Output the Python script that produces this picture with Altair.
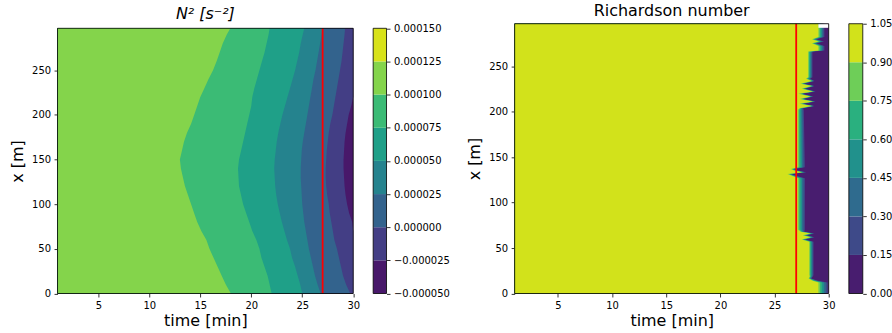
import altair as alt
import pandas as pd

# ---------------- data ----------------
time_domain = [1, 30]
x_domain = [0, 297]
time_ticks = [5, 10, 15, 20, 25, 30]
x_ticks = [0, 50, 100, 150, 200, 250]
marker_time = [27]

# N^2 panel: contour-band edges (time in min) along x [m]
n2_rows = [0, 10, 20, 30, 40, 50, 60, 70, 80, 90, 100, 110, 120, 130, 140, 150,
           160, 170, 180, 190, 200, 210, 220, 230, 240, 250, 260, 270, 280, 290, 297]
n2_edge_1 = [18.0, 17.5, 17.1, 16.7, 16.3, 15.9, 15.6, 15.1, 14.7, 14.4, 14.1, 13.8, 13.5, 13.3, 13.1, 13.0,
             13.2, 13.4, 13.7, 14.1, 14.4, 14.7, 15.0, 15.4, 15.8, 16.25, 16.6, 16.9, 17.2, 17.6, 17.95]
n2_edge_2 = [22.0, 21.8, 21.6, 21.3, 21.0, 20.8, 20.5, 20.1, 19.8, 19.5, 19.2, 19.0, 18.8, 18.75, 18.7, 18.8,
             19.0, 19.2, 19.4, 19.6, 19.8, 20.0, 20.1, 20.3, 20.55, 20.8, 21.05, 21.3, 21.5, 21.7, 21.8]
n2_edge_3 = [25.0, 24.8, 24.55, 24.3, 24.0, 23.8, 23.5, 23.25, 23.0, 22.8, 22.6, 22.45, 22.35, 22.3, 22.25, 22.3,
             22.4, 22.5, 22.65, 22.85, 23.05, 23.3, 23.55, 23.8, 24.05, 24.3, 24.5, 24.7, 24.85, 25.05, 25.2]
n2_edge_4 = [26.8, 26.5, 26.25, 26.05, 25.85, 25.65, 25.5, 25.35, 25.2, 25.1, 25.0, 24.95, 24.9, 24.85, 24.85, 24.9,
             24.95, 25.05, 25.2, 25.35, 25.5, 25.65, 25.8, 25.95, 26.1, 26.3, 26.45, 26.6, 26.75, 26.9, 27.0]
n2_edge_5 = [29.7, 29.3, 29.0, 28.8, 28.6, 28.4, 28.15, 28.0, 27.85, 27.7, 27.6, 27.45, 27.35, 27.3, 27.3, 27.35,
             27.4, 27.5, 27.6, 27.75, 27.95, 28.1, 28.25, 28.4, 28.55, 28.7, 28.85, 28.95, 29.05, 29.15, 29.2]
n2_edge_6 = [30, 30, 30, 30, 30, 30, 30, 30, 29.9, 29.6, 29.4, 29.25, 29.15, 29.1, 29.05, 29.05,
             29.1, 29.15, 29.25, 29.4, 29.55, 29.8, 30, 30, 30, 30, 30, 30, 30, 30, 30]
n2_levels = [-0.00005, -0.000025, 0.0, 0.000025, 0.00005, 0.000075, 0.0001, 0.000125, 0.00015]
n2_colors = ["#48186a", "#433e85", "#33638d", "#25838e", "#1fa088", "#3bbb75", "#84d44b", "#d8e219"]

# Richardson number panel: time where Ri leaves the top band / reaches the bottom band
ri_rows = [0, 12, 14, 16.5, 19, 20.5, 57, 59.5, 62, 64, 66, 68, 70.5, 127, 129.5, 131.5, 133.5,
           135.5, 137, 139, 202, 204, 206.5, 209, 211.5, 214, 217, 220, 222.5, 225.5, 228.5, 231,
           234, 236.5, 238, 266.5, 267.5, 272.5, 275.5, 277.5, 280, 282.5, 297]
ri_high_end = [29.05, 29.05, 28.5, 28.15, 28.25, 28.2, 28.2, 27.5, 28.3, 27.6, 28.3, 27.4, 27.15, 27.15, 26.6, 26.2, 27.5,
               26.8, 26.5, 27.15, 27.15, 27.3, 28.4, 27.3, 28.5, 27.3, 28.3, 27.2, 28.5, 27.5, 28.4, 27.4,
               28.4, 27.9, 28.1, 28.1, 29.05, 29.05, 28.45, 29.05, 28.45, 29.05, 29.05]
ri_low_start = [29.9, 29.9, 29.0, 28.4, 28.55, 28.6, 28.6, 27.85, 28.7, 27.95, 28.7, 27.75, 27.8, 27.8, 27.0, 26.55, 27.95,
                27.1, 26.85, 27.8, 27.7, 27.65, 28.7, 27.6, 28.8, 27.6, 28.6, 27.5, 28.8, 27.8, 28.7, 27.7,
                28.7, 28.3, 28.5, 28.5, 29.6, 29.6, 28.85, 29.6, 28.85, 29.6, 29.6]
ri_levels = [0.0, 0.15, 0.30, 0.45, 0.60, 0.75, 0.90, 1.05]
ri_colors = ["#481d6f", "#3e4a89", "#2f6b8e", "#21918c", "#2ab07f", "#6ece58", "#d2e21b"]
ri_mask_rows = [292.5, 297]
ri_mask_time = [29.05, 30]

# ---------------- layout ----------------
FONT = "DejaVu Sans"
H = 270.6            # common panel height
LEFT_TOP = 4.6       # left panel starts a little lower
xs = alt.Scale(domain=time_domain, nice=False, zero=False)
x_axis = alt.Axis(values=time_ticks, title="time [min]", titlePadding=2, labelFlush=False)
y_axis = alt.Axis(values=x_ticks, title="x [m]", titlePadding=6, labelFlush=False)


def labels(levels, fmt):
    return [f"{fmt(a)}..{fmt(b)}" for a, b in zip(levels[:-1], levels[1:])]


def area_layer(rows, right, band, cscale, ys):
    df = pd.DataFrame({"xm": rows, "t0": time_domain[0], "t1": right, "band": band})
    return alt.Chart(df).mark_area(orient="horizontal", interpolate="linear").encode(
        y=alt.Y("xm:Q", scale=ys, axis=y_axis),
        x=alt.X("t0:Q", scale=xs, axis=x_axis, stack=False),
        x2="t1:Q",
        color=alt.Color("band:N", scale=cscale, legend=None),
    )


def frame_layer(ys):
    df = pd.DataFrame({"t0": [time_domain[0]], "t1": [time_domain[1]],
                       "y0": [x_domain[0]], "y1": [x_domain[1]]})
    return alt.Chart(df).mark_rect(fillOpacity=0, stroke="black", strokeWidth=0.8).encode(
        x=alt.X("t0:Q", scale=xs, axis=x_axis), x2="t1:Q",
        y=alt.Y("y0:Q", scale=ys, axis=y_axis), y2="y1:Q")


def rule_layer(ys):
    df = pd.DataFrame({"t": marker_time, "y0": x_domain[0], "y1": x_domain[1]})
    return alt.Chart(df).mark_rule(color="red", strokeWidth=1.8).encode(
        x=alt.X("t:Q", scale=xs, axis=x_axis), y=alt.Y("y0:Q", scale=ys, axis=y_axis), y2="y1:Q")


def colorbar(levels, cscale, fmt, w, top):
    df = pd.DataFrame({"lo": levels[:-1], "hi": levels[1:], "band": cscale.domain,
                       "c0": 0, "c1": 1})
    cys = alt.Scale(domain=[levels[0], levels[-1]], nice=False, zero=False, range=[H, top])
    cxs = alt.Scale(domain=[0, 1], nice=False, zero=False)
    cb_axis = alt.Axis(orient="right", values=levels, format=fmt, title=None,
                       labelOverlap=False, labelFlush=False, labelBound=False)
    bars = alt.Chart(df).mark_rect().encode(
        x=alt.X("c0:Q", scale=cxs, axis=None), x2="c1:Q",
        y=alt.Y("lo:Q", scale=cys, axis=cb_axis),
        y2="hi:Q",
        color=alt.Color("band:N", scale=cscale, legend=None),
    )
    fdf = pd.DataFrame({"c0": [0], "c1": [1], "lo": [levels[0]], "hi": [levels[-1]]})
    frame = alt.Chart(fdf).mark_rect(fillOpacity=0, stroke="black", strokeWidth=0.8).encode(
        x=alt.X("c0:Q", scale=cxs, axis=None), x2="c1:Q",
        y=alt.Y("lo:Q", scale=cys, axis=cb_axis), y2="hi:Q")
    return alt.layer(bars, frame).properties(width=w, height=H)


# ---------------- N^2 panel ----------------
ys_left = alt.Scale(domain=x_domain, nice=False, zero=False, range=[H, LEFT_TOP])
n2_labels = labels(n2_levels, lambda v: f"{v:.6f}")
n2_scale = alt.Scale(domain=n2_labels, range=n2_colors)
n2_edges = [[time_domain[1]] * len(n2_rows), n2_edge_6, n2_edge_5, n2_edge_4,
            n2_edge_3, n2_edge_2, n2_edge_1]  # right edges of bands 0..6 (low to high)
n2_layers = [area_layer(n2_rows, n2_edges[i], n2_labels[i], n2_scale, ys_left) for i in range(7)]
left = alt.layer(*n2_layers, rule_layer(ys_left), frame_layer(ys_left)).properties(
    width=296.6, height=H,
    title=alt.TitleParams("N² [s⁻²]", fontStyle="italic", offset=1.8))
left_cb = colorbar(n2_levels, n2_scale, ".6f", 13.4, LEFT_TOP)

# ---------------- Richardson panel ----------------
ys_right = alt.Scale(domain=x_domain, nice=False, zero=False, range=[H, 0])
ri_labels = labels(ri_levels, lambda v: f"{v:.2f}")
ri_scale = alt.Scale(domain=ri_labels, range=ri_colors)
ri_edges = []
for k in range(5, -1, -1):
    ri_edges.append([a + (b - a) * k / 5 for a, b in zip(ri_high_end, ri_low_start)])
ri_right = [[time_domain[1]] * len(ri_rows)] + ri_edges  # right edges for bands 0..6
ri_layers = [area_layer(ri_rows, ri_right[i], ri_labels[i], ri_scale, ys_right) for i in range(7)]
mask = alt.Chart(pd.DataFrame({"t0": [ri_mask_time[0]], "t1": [ri_mask_time[1]],
                               "y0": [ri_mask_rows[0]], "y1": [ri_mask_rows[1]]})).mark_rect(
    color="white").encode(x=alt.X("t0:Q", scale=xs, axis=x_axis), x2="t1:Q",
                          y=alt.Y("y0:Q", scale=ys_right, axis=y_axis), y2="y1:Q")
right = alt.layer(*ri_layers, mask, rule_layer(ys_right), frame_layer(ys_right)).properties(
    width=315, height=H,
    title=alt.TitleParams("Richardson number", offset=4.0))
right_cb = colorbar(ri_levels, ri_scale, ".2f", 14, 0)

chart = alt.hconcat(
    alt.hconcat(left, left_cb, spacing=12.6),
    alt.hconcat(right, right_cb, spacing=12.2),
    spacing=15.5,
).resolve_scale(color="independent").properties(
    padding={"left": 8.7, "top": 2.3, "right": 0, "bottom": 0}
).configure_view(strokeWidth=0).configure_axis(
    labelFont=FONT, labelFontSize=10, labelColor="black", tickColor="black",
    tickSize=3.5, tickWidth=0.8, labelPadding=3.5, domain=False, grid=False,
    titleFont=FONT, titleFontSize=16, titleFontWeight="normal", titleColor="black",
).configure_title(font=FONT, fontSize=16, fontWeight="normal", color="black", anchor="middle")

chart.save("out.html", embed_options={"renderer": "svg", "actions": False})
